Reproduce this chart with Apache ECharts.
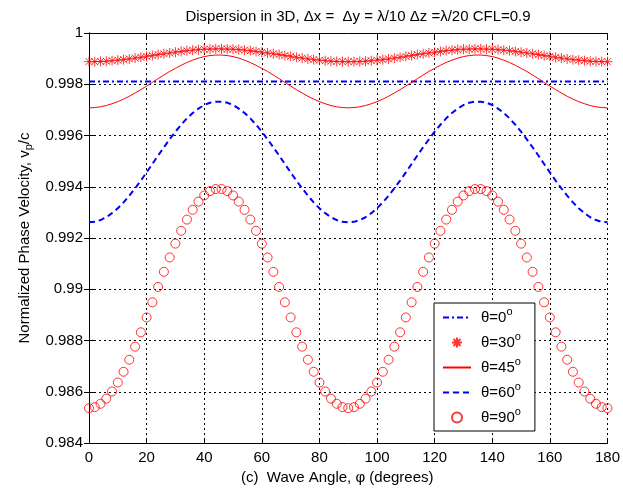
<!DOCTYPE html>
<html><head><meta charset="utf-8">
<script src="https://cdn.jsdelivr.net/npm/echarts@6/dist/echarts.min.js"></script>
<style>html,body{margin:0;padding:0;background:#fff}#c{width:623px;height:493px}</style>
</head><body><div id="c"></div>
<script>
const phi = [0,2,4,6,8,10,12,14,16,18,20,22,24,26,28,30,32,34,36,38,40,42,44,46,48,50,52,54,56,58,60,62,64,66,68,70,72,74,76,78,80,82,84,86,88,90,92,94,96,98,100,102,104,106,108,110,112,114,116,118,120,122,124,126,128,130,132,134,136,138,140,142,144,146,148,150,152,154,156,158,160,162,164,166,168,170,172,174,176,178,180];

const theta0 = [0.99811,0.99811,0.99811,0.99811,0.99811,0.99811,0.99811,0.99811,0.99811,0.99811,0.99811,0.99811,0.99811,0.99811,0.99811,0.99811,0.99811,0.99811,0.99811,0.99811,0.99811,0.99811,0.99811,0.99811,0.99811,0.99811,0.99811,0.99811,0.99811,0.99811,0.99811,0.99811,0.99811,0.99811,0.99811,0.99811,0.99811,0.99811,0.99811,0.99811,0.99811,0.99811,0.99811,0.99811,0.99811,0.99811,0.99811,0.99811,0.99811,0.99811,0.99811,0.99811,0.99811,0.99811,0.99811,0.99811,0.99811,0.99811,0.99811,0.99811,0.99811,0.99811,0.99811,0.99811,0.99811,0.99811,0.99811,0.99811,0.99811,0.99811,0.99811,0.99811,0.99811,0.99811,0.99811,0.99811,0.99811,0.99811,0.99811,0.99811,0.99811,0.99811,0.99811,0.99811,0.99811,0.99811,0.99811,0.99811,0.99811,0.99811,0.99811];

const theta30 = [0.99888,0.99888,0.99889,0.99890,0.99892,0.99894,0.99896,0.99899,0.99902,0.99905,0.99909,0.99912,0.99916,0.99919,0.99922,0.99925,0.99928,0.99931,0.99933,0.99935,0.99937,0.99937,0.99938,
0.99938,0.99937,0.99937,0.99935,0.99933,0.99931,0.99928,0.99925,0.99922,0.99919,0.99916,0.99912,0.99909,0.99905,0.99902,0.99899,0.99896,0.99894,0.99892,0.99890,0.99889,0.99888,
0.99888,
0.99888,0.99889,0.99890,0.99892,0.99894,0.99896,0.99899,0.99902,0.99905,0.99909,0.99912,0.99916,0.99919,0.99922,0.99925,0.99928,0.99931,0.99933,0.99935,0.99937,0.99937,0.99938,
0.99938,0.99937,0.99937,0.99935,0.99933,0.99931,0.99928,0.99925,0.99922,0.99919,0.99916,0.99912,0.99909,0.99905,0.99902,0.99899,0.99896,0.99894,0.99892,0.99890,0.99889,0.99888,
0.99888];

const theta45 = [0.99708,0.99709,0.99712,0.99717,0.99724,0.99732,0.99742,0.99753,0.99766,0.99779,0.99793,0.99807,0.99822,0.99836,0.99850,0.99862,0.99874,0.99885,0.99894,0.99902,0.99908,0.99912,0.99914,
0.99914,0.99912,0.99908,0.99902,0.99894,0.99885,0.99874,0.99862,0.99850,0.99836,0.99822,0.99807,0.99793,0.99779,0.99766,0.99753,0.99742,0.99732,0.99724,0.99717,0.99712,0.99709,
0.99708,
0.99709,0.99712,0.99717,0.99724,0.99732,0.99742,0.99753,0.99766,0.99779,0.99793,0.99807,0.99822,0.99836,0.99850,0.99862,0.99874,0.99885,0.99894,0.99902,0.99908,0.99912,0.99914,
0.99914,0.99912,0.99908,0.99902,0.99894,0.99885,0.99874,0.99862,0.99850,0.99836,0.99822,0.99807,0.99793,0.99779,0.99766,0.99753,0.99742,0.99732,0.99724,0.99717,0.99712,0.99709,
0.99708];

const theta60 = [0.99261,0.99263,0.99270,0.99281,0.99297,0.99316,0.99339,0.99365,0.99394,0.99424,0.99456,0.99489,0.99522,0.99554,0.99585,0.99615,0.99642,0.99667,0.99688,0.99705,0.99719,0.99728,0.99732,
0.99732,0.99728,0.99719,0.99705,0.99688,0.99667,0.99642,0.99615,0.99585,0.99554,0.99522,0.99489,0.99456,0.99424,0.99394,0.99365,0.99339,0.99316,0.99297,0.99281,0.99270,0.99263,
0.99261,
0.99263,0.99270,0.99281,0.99297,0.99316,0.99339,0.99365,0.99394,0.99424,0.99456,0.99489,0.99522,0.99554,0.99585,0.99615,0.99642,0.99667,0.99688,0.99705,0.99719,0.99728,0.99732,
0.99732,0.99728,0.99719,0.99705,0.99688,0.99667,0.99642,0.99615,0.99585,0.99554,0.99522,0.99489,0.99456,0.99424,0.99394,0.99365,0.99339,0.99316,0.99297,0.99281,0.99270,0.99263,
0.99261];

const theta90 = [0.98536,0.98540,0.98553,0.98573,0.98601,0.98636,0.98678,0.98725,0.98776,0.98832,0.98890,0.98949,0.99009,0.99068,0.99124,0.99178,0.99228,0.99272,0.99310,0.99342,0.99366,0.99383,0.99391,
0.99391,0.99383,0.99366,0.99342,0.99310,0.99272,0.99228,0.99178,0.99124,0.99068,0.99009,0.98949,0.98890,0.98832,0.98776,0.98725,0.98678,0.98636,0.98601,0.98573,0.98553,0.98540,
0.98536,
0.98540,0.98553,0.98573,0.98601,0.98636,0.98678,0.98725,0.98776,0.98832,0.98890,0.98949,0.99009,0.99068,0.99124,0.99178,0.99228,0.99272,0.99310,0.99342,0.99366,0.99383,0.99391,
0.99391,0.99383,0.99366,0.99342,0.99310,0.99272,0.99228,0.99178,0.99124,0.99068,0.99009,0.98949,0.98890,0.98832,0.98776,0.98725,0.98678,0.98636,0.98601,0.98573,0.98553,0.98540,
0.98536];

const seriesNames = ['θ=0', 'θ=30', 'θ=45', 'θ=60', 'θ=90'];
const xTicks = {min: 0, max: 180, interval: 20};
const yTicks = {min: 0.984, max: 1, interval: 0.002};

const FONT = 'Liberation Sans';
const pairs = arr => phi.map((p, i) => [p, arr[i]]);
const star = 'path://M0,5L10,5M5,0L5,10M1.5,1.5L8.5,8.5M1.5,8.5L8.5,1.5';

const chart = echarts.init(document.getElementById('c'), null, {renderer: 'canvas'});
const gridLine = {show: true, lineStyle: {color: '#000', type: [2, 3], width: 1}};
const axLine = {show: true, lineStyle: {color: '#000', width: 1}};
const tick = {show: true, inside: true, length: 5, lineStyle: {color: '#000'}};
const hideSym = {color: 'rgba(0,0,0,0)', borderWidth: 0, opacity: 0};

chart.setOption({
  animation: false,
  backgroundColor: '#fff',
  title: {
    text: 'Dispersion in 3D, Δx =  Δy = λ/10 Δz =λ/20 CFL=0.9',
    left: 353, top: 4, textAlign: 'center',
    textStyle: {fontFamily: FONT, fontSize: 15, fontWeight: 'normal', color: '#000'}
  },
  grid: {left: 89, right: 14, top: 33, bottom: 50},
  legend: {
    orient: 'vertical', left: 434, top: 303,
    backgroundColor: '#fff', borderColor: '#000', borderWidth: 1,
    padding: [3, 14, 2, 8], itemGap: 2, itemWidth: 28, itemHeight: 10,
    data: [
      {name: seriesNames[0], itemStyle: hideSym},
      {name: seriesNames[1]},
      {name: seriesNames[2], itemStyle: hideSym},
      {name: seriesNames[3], itemStyle: hideSym},
      {name: seriesNames[4]}
    ],
    formatter: n => '{a|' + n + '}{s|o}',
    textStyle: {
      fontFamily: FONT, fontSize: 15, color: '#000',
      rich: {
        a: {fontFamily: FONT, fontSize: 15, color: '#000', lineHeight: 17, padding: [0, 0, 0, 5]},
        s: {fontFamily: FONT, fontSize: 11, color: '#000', lineHeight: 9, padding: [0, 0, 12, 0]}
      }
    }
  },
  xAxis: [{
    type: 'value', min: xTicks.min, max: xTicks.max, interval: xTicks.interval,
    name: '(c)  Wave Angle, φ (degrees)', nameLocation: 'middle', nameGap: 20,
    nameTextStyle: {fontFamily: FONT, fontSize: 15, color: '#000', padding: [0, 22, 0, 0]},
    axisLine: axLine, axisTick: tick, splitLine: gridLine,
    axisLabel: {fontFamily: FONT, fontSize: 15, color: '#000', margin: 7}
  }, {
    type: 'value', position: 'top', min: xTicks.min, max: xTicks.max, interval: xTicks.interval,
    axisLine: axLine, axisTick: tick, splitLine: {show: false}, axisLabel: {show: false}
  }],
  yAxis: [{
    type: 'value', min: yTicks.min, max: yTicks.max, interval: yTicks.interval,
    name: '{a|Normalized Phase Velocity, v}{b|p}{a|/c}', nameLocation: 'middle', nameGap: 55,
    nameTextStyle: {
      fontFamily: FONT, fontSize: 15, color: '#000',
      rich: {
        a: {fontFamily: FONT, fontSize: 15, color: '#000'},
        b: {fontFamily: FONT, fontSize: 11, color: '#000', padding: [8, 0, 0, 0]}
      }
    },
    axisLine: axLine, axisTick: tick, splitLine: gridLine,
    axisLabel: {fontFamily: FONT, fontSize: 15, color: '#000', margin: 6,
      formatter: v => String(+v.toFixed(3))}
  }, {
    type: 'value', position: 'right', min: yTicks.min, max: yTicks.max, interval: yTicks.interval,
    axisLine: axLine, axisTick: tick, splitLine: {show: false}, axisLabel: {show: false}
  }],
  series: [{
    name: seriesNames[0], type: 'line', data: pairs(theta0), symbol: 'none',
    lineStyle: {color: '#0000ff', width: 2, type: [6, 3, 2, 3]}, itemStyle: {color: '#0000ff'}, z: 3
  }, {
    name: seriesNames[1], type: 'scatter', data: pairs(theta30), symbol: star, symbolSize: 10,
    itemStyle: {color: '#ff0000', borderColor: '#ff0000', borderWidth: 1}, z: 4
  }, {
    name: seriesNames[2], type: 'line', data: pairs(theta45), symbol: 'none',
    lineStyle: {color: '#ff0000', width: 1}, itemStyle: {color: '#ff0000'}, z: 3
  }, {
    name: seriesNames[3], type: 'line', data: pairs(theta60), symbol: 'none',
    lineStyle: {color: '#0000ff', width: 2, type: [6, 4]}, itemStyle: {color: '#0000ff'}, z: 3
  }, {
    name: seriesNames[4], type: 'scatter', data: pairs(theta90), symbol: 'circle', symbolSize: 9,
    itemStyle: {color: 'rgba(0,0,0,0)', borderColor: '#ff0000', borderWidth: 1}, z: 4
  }]
});
</script></body></html>
